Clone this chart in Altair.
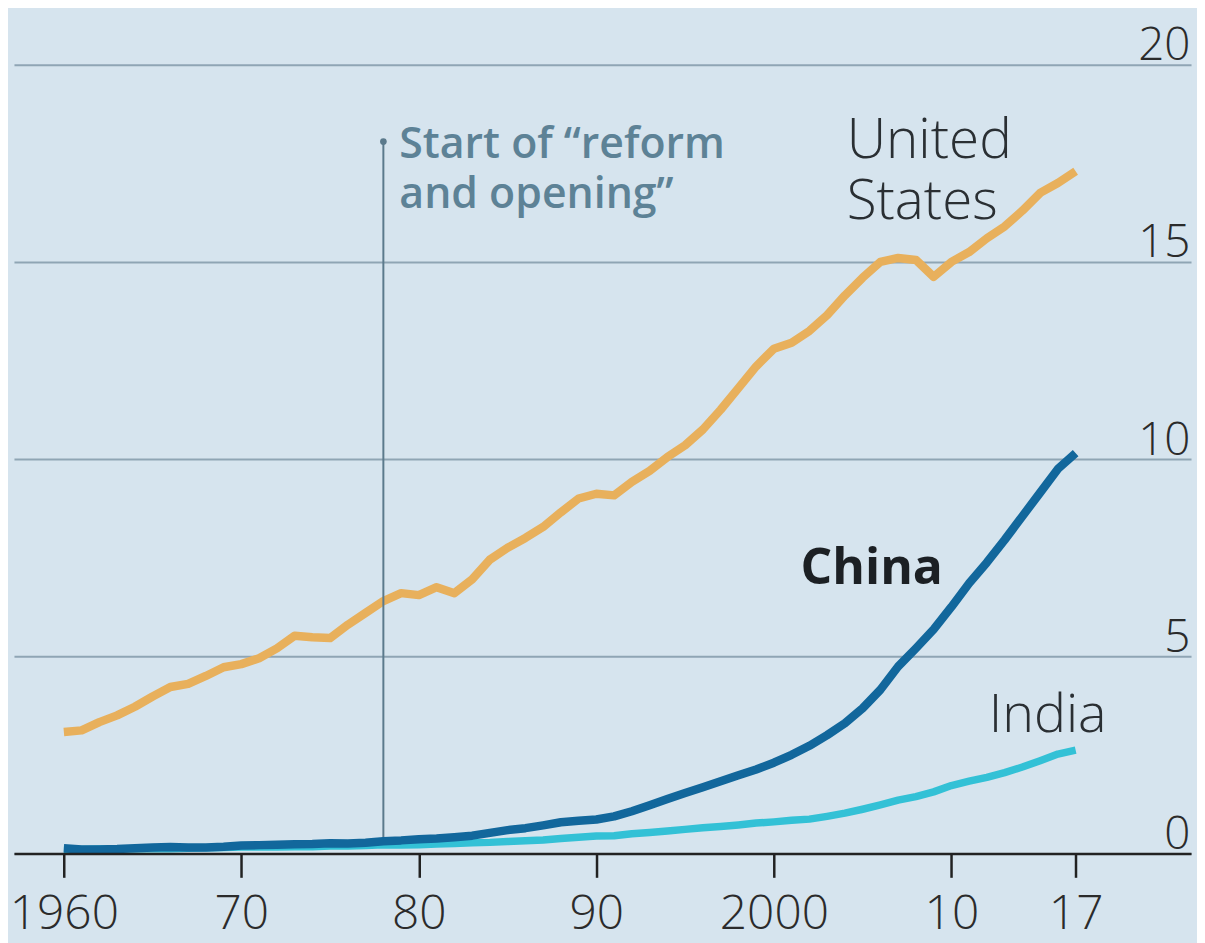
import altair as alt
import pandas as pd

years = list(range(1960, 2018))

us_gdp = [3.08, 3.12, 3.33, 3.50, 3.72, 3.98, 4.22, 4.30, 4.50, 4.72,
          4.80, 4.95, 5.20, 5.52, 5.48, 5.46, 5.80, 6.10, 6.40, 6.60,
          6.55, 6.75, 6.60, 6.95, 7.45, 7.75, 8.00, 8.28, 8.65, 9.00,
          9.12, 9.08, 9.42, 9.70, 10.05, 10.35, 10.75, 11.25, 11.80, 12.35,
          12.80, 12.95, 13.25, 13.65, 14.15, 14.60, 15.00, 15.10, 15.05, 14.62,
          15.00, 15.25, 15.60, 15.90, 16.30, 16.75, 17.00, 17.30]

china_gdp = [0.13, 0.10, 0.10, 0.11, 0.13, 0.15, 0.16, 0.15, 0.15, 0.17,
             0.20, 0.21, 0.22, 0.23, 0.24, 0.26, 0.25, 0.27, 0.31, 0.33,
             0.36, 0.38, 0.41, 0.45, 0.52, 0.59, 0.64, 0.71, 0.79, 0.83,
             0.86, 0.94, 1.07, 1.22, 1.38, 1.53, 1.68, 1.83, 1.98, 2.13,
             2.30, 2.50, 2.73, 3.00, 3.30, 3.68, 4.15, 4.74, 5.20, 5.68,
             6.25, 6.85, 7.38, 7.95, 8.55, 9.15, 9.75, 10.15]

india_gdp = [0.10, 0.10, 0.11, 0.12, 0.12, 0.12, 0.12, 0.13, 0.14, 0.15,
             0.16, 0.16, 0.16, 0.17, 0.17, 0.19, 0.19, 0.20, 0.22, 0.21,
             0.22, 0.24, 0.25, 0.27, 0.28, 0.30, 0.32, 0.34, 0.38, 0.41,
             0.44, 0.45, 0.50, 0.53, 0.57, 0.61, 0.65, 0.68, 0.72, 0.77,
             0.80, 0.84, 0.87, 0.94, 1.02, 1.12, 1.23, 1.35, 1.44, 1.56,
             1.72, 1.83, 1.93, 2.05, 2.19, 2.35, 2.52, 2.62]

x_tick_values = [1960, 1970, 1980, 1990, 2000, 2010, 2017]
x_tick_labels = ["1960", "70", "80", "90", "2000", "10", "17"]
y_tick_values = [0, 5, 10, 15, 20]

reform_year = 1978
reform_low = 0.4
reform_high = 18.05

FONT = "Open Sans"
BG = "#d6e4ee"

label_expr = "''"
for v, l in reversed(list(zip(x_tick_values, x_tick_labels))):
    label_expr = f"datum.value == {v} ? '{l}' : ({label_expr})"

xscale = alt.Scale(domain=[1957.19, 2023.5], nice=False, zero=False)
yscale = alt.Scale(domain=[0, 20], nice=False, zero=False)

x_axis = alt.Axis(values=x_tick_values, labelExpr=label_expr, title=None,
                  grid=False, domainColor="#222222", domainWidth=2.5,
                  tickColor="#222222", tickWidth=2.5, tickSize=24,
                  labelPadding=13, labelFontSize=48, labelFont=FONT,
                  labelFontWeight=300, labelColor="#2b2b2b", zindex=2,
                  labelFlush=False)
y_axis = alt.Axis(values=y_tick_values, orient="right", title=None,
                  grid=True, gridColor="#8fa5b4", gridWidth=2,
                  domain=False, ticks=False, labelAlign="right",
                  labelBaseline="alphabetic", labelPadding=-1, labelOffset=-5,
                  labelFontSize=46, labelFont=FONT, labelFontWeight=300,
                  labelColor="#2b2b2b", zindex=0)

X = alt.X("year:Q", scale=xscale, axis=x_axis)
Y = alt.Y("gdp:Q", scale=yscale, axis=y_axis)


def series(vals):
    return pd.DataFrame({"year": years, "gdp": vals})


us_line = alt.Chart(series(us_gdp)).mark_line(
    color="#e8b05c", strokeWidth=8.5, strokeJoin="round").encode(x=X, y=Y)

india_line = alt.Chart(series(india_gdp)).mark_line(
    color="#33c1d6", strokeWidth=7.5, strokeJoin="round").encode(x=X, y=Y)

china_line = alt.Chart(series(china_gdp)).mark_line(
    color="#12679c", strokeWidth=8.5, strokeJoin="round").encode(x=X, y=Y)

rule_df = pd.DataFrame({"year": [reform_year], "gdp": [reform_low], "hi": [reform_high]})
reform_rule = alt.Chart(rule_df).mark_rule(color="#5b7a8c", strokeWidth=2).encode(
    x=X, y=Y, y2="hi:Q")

dot_df = pd.DataFrame({"year": [reform_year], "gdp": [reform_high]})
reform_dot = alt.Chart(dot_df).mark_circle(color="#5b7a8c", size=45, opacity=1).encode(
    x=X, y=Y)


def label(text, x, y, size, weight, color):
    df = pd.DataFrame({"year": [x], "gdp": [y], "t": [text]})
    return alt.Chart(df).mark_text(
        align="left", baseline="alphabetic", font=FONT, fontSize=size,
        fontWeight=weight, color=color).encode(x=X, y=Y, text="t:N")


ANN = "#5d8296"
DARK = "#2a2f33"
reform_text1 = label("Start of \u201creform", 1978.9, 17.63, 43, 600, ANN)
reform_text2 = label("and opening\u201d", 1978.9, 16.37, 43, 600, ANN)
us_text1 = label("United", 2004.1, 17.63, 55, 300, DARK)
us_text2 = label("States", 2004.1, 16.09, 55, 300, DARK)
china_text = label("China", 2001.5, 6.82, 50, 700, "#1c2024")
india_text = label("India", 2012.1, 3.08, 54, 300, DARK)

chart = alt.layer(
    us_line, reform_rule, reform_dot, india_line, china_line,
    reform_text1, reform_text2, us_text1, us_text2, china_text, india_text,
).properties(
    width=1182, height=792,
    padding={"left": 6, "top": 55, "right": 6, "bottom": 88},
    autosize=alt.AutoSizeParams(type="none"),
    background=BG,
).configure_view(stroke=None, fill=BG)

chart.save("out.html", embed_options={"renderer": "svg", "actions": False})
